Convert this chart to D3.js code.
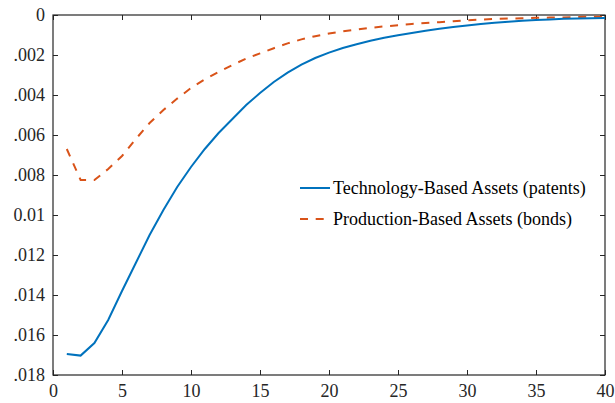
<!DOCTYPE html>
<html><head><meta charset="utf-8">
<script src="https://cdn.jsdelivr.net/npm/d3@7"></script>
<style>body{margin:0;background:#fff}svg{display:block}</style>
</head><body><svg id="c" width="615" height="403"></svg>
<script>
const periods = d3.range(1, 41);
const techAssets = [-16.95,-17.03,-16.4,-15.25,-13.8,-12.4,-11.0,-9.75,-8.6,-7.6,-6.7,-5.9,-5.2,-4.5,-3.9,-3.35,-2.88,-2.48,-2.15,-1.88,-1.65,-1.46,-1.29,-1.14,-1.01,-0.9,-0.79,-0.69,-0.6,-0.52,-0.45,-0.39,-0.34,-0.29,-0.25,-0.22,-0.19,-0.17,-0.16,-0.15].map(v=>v/1000);
const prodAssets = [-6.7,-8.25,-8.25,-7.7,-7.05,-6.2,-5.4,-4.75,-4.18,-3.65,-3.22,-2.85,-2.5,-2.18,-1.92,-1.66,-1.42,-1.22,-1.06,-0.92,-0.82,-0.73,-0.64,-0.57,-0.51,-0.45,-0.4,-0.36,-0.31,-0.26,-0.23,-0.2,-0.18,-0.16,-0.14,-0.13,-0.12,-0.1,-0.09,-0.08].map(v=>v/1000);
const xTicks = [0,5,10,15,20,25,30,35,40];
const yTicks = [0,-0.002,-0.004,-0.006,-0.008,-0.01,-0.012,-0.014,-0.016,-0.018];
const yTickLabels = ["0",".002",".004",".006",".008","0.01",".012",".014",".016",".018"];
const seriesNames = ["Technology-Based Assets (patents)","Production-Based Assets (bonds)"];

const L=53,R=605,T=15,B=375;
const svg=d3.select("#c");
const x=d3.scaleLinear().domain([0,40]).range([L,R]);
const y=d3.scaleLinear().domain([-0.018,0]).range([B,T]);
const font='"Liberation Serif"';
const axCol="#262626";
const dash="8,7.7";

function styleAxis(g){
  g.attr("font-family",null).attr("font-size",null);
  g.select(".domain").remove();
  g.selectAll(".tick line").attr("stroke",axCol).attr("stroke-width",1);
  g.selectAll("text").style("font-family",font).style("font-size","18px").attr("fill",axCol);
}
svg.append("g").attr("transform",`translate(0,${B})`)
  .call(d3.axisBottom(x).tickValues(xTicks).tickSizeInner(-5).tickSizeOuter(0).tickPadding(9))
  .call(styleAxis);
svg.append("g").attr("transform",`translate(0,${T})`)
  .call(d3.axisTop(x).tickValues(xTicks).tickSizeInner(-5).tickSizeOuter(0).tickFormat(""))
  .call(styleAxis);
svg.append("g").attr("transform",`translate(${L},0)`)
  .call(d3.axisLeft(y).tickValues(yTicks).tickSizeInner(-5).tickSizeOuter(0).tickPadding(8).tickFormat((d,i)=>yTickLabels[i]))
  .call(styleAxis);
svg.append("g").attr("transform",`translate(${R},0)`)
  .call(d3.axisRight(y).tickValues(yTicks).tickSizeInner(-5).tickSizeOuter(0).tickFormat(""))
  .call(styleAxis);
svg.append("rect").attr("x",L).attr("y",T).attr("width",R-L).attr("height",B-T)
  .attr("fill","none").attr("stroke",axCol).attr("stroke-width",1.2);

const line=d3.line().x((d,i)=>x(periods[i])).y(d=>y(d));
svg.append("path").datum(prodAssets).attr("d",line).attr("fill","none")
  .attr("stroke","#D95319").attr("stroke-width",2).attr("stroke-dasharray",dash);
svg.append("path").datum(techAssets).attr("d",line).attr("fill","none")
  .attr("stroke","#0072BD").attr("stroke-width",2);

const lg=svg.append("g");
const rows=[{c:"#0072BD",d:null,yy:188},{c:"#D95319",d:dash,yy:219}];
rows.forEach((r,i)=>{
  lg.append("line").attr("x1",300).attr("x2",330).attr("y1",r.yy).attr("y2",r.yy)
    .attr("stroke",r.c).attr("stroke-width",2).attr("stroke-dasharray",r.d);
  lg.append("text").attr("x",333).attr("y",r.yy+6).text(seriesNames[i])
    .style("font-family",font).style("font-size","18px").attr("fill","#000");
});
</script></body></html>
